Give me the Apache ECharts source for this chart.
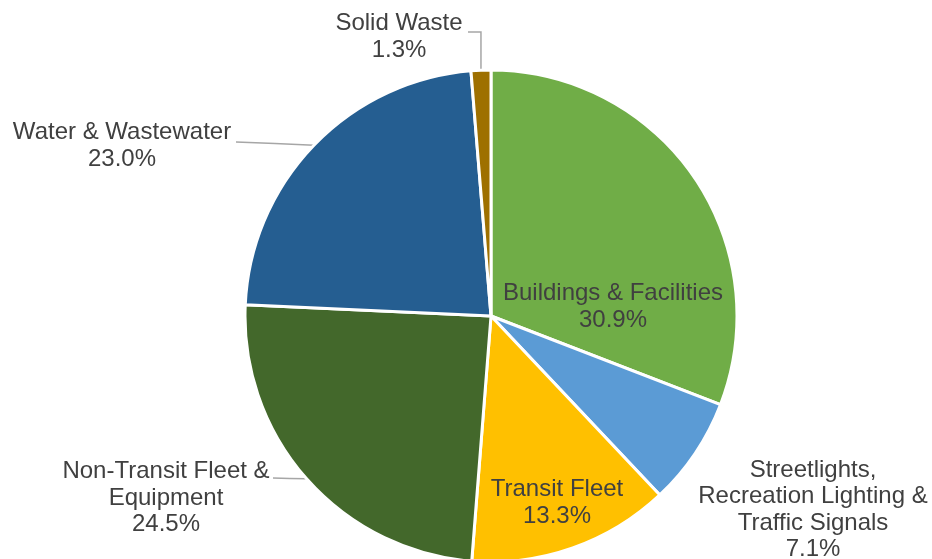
<!DOCTYPE html>
<html>
<head>
<meta charset="utf-8">
<script src="https://cdn.jsdelivr.net/npm/echarts@6/dist/echarts.min.js"></script>
<style>
  html, body { margin: 0; padding: 0; background: #ffffff; }
  #chart { width: 932px; height: 559px; }
</style>
</head>
<body>
<div id="chart"></div>
<script>
// Emissions share by sector (%)
const sectors = [
  'Buildings & Facilities',
  'Streetlights,\nRecreation Lighting &\nTraffic Signals',
  'Transit Fleet',
  'Non-Transit Fleet &\nEquipment',
  'Water & Wastewater',
  'Solid Waste'
];
const shares = [30.9, 7.1, 13.3, 24.5, 23.0, 1.3];
const sliceColors = ['#70AD47', '#5B9BD5', '#FFC000', '#43682B', '#255E91', '#9E7000'];

// Label placement: [centerX, centerY, leader style]
const labelSpots = [
  [613, 307, 'none'],
  [813, 510, 'none'],
  [557, 503, 'none'],
  [166, 498, 'straight'],
  [122, 146, 'straight'],
  [399, 37, 'elbow']
];
// Where each leader meets its label text
const leaderEnds = [null, null, null, [273, 478], [236, 142], [468, 32]];

const chart = echarts.init(document.getElementById('chart'), null, { renderer: 'canvas' });

const data = sectors.map((name, i) => ({
  name: name,
  value: shares[i],
  itemStyle: { color: sliceColors[i] },
  labelLine: { show: labelSpots[i][2] !== 'none' }
}));

chart.setOption({
  animation: false,
  backgroundColor: '#ffffff',
  series: [{
    type: 'pie',
    center: [491, 316],
    radius: [0, 246],
    startAngle: 90,
    clockwise: true,
    avoidLabelOverlap: false,
    data: data,
    itemStyle: { borderColor: '#ffffff', borderWidth: 3 },
    label: {
      show: true,
      position: 'outside',
      formatter: p => p.name + '\n' + p.value.toFixed(1) + '%',
      fontFamily: '"Liberation Sans", Arial, sans-serif',
      fontSize: 24,
      lineHeight: 26.5,
      color: '#404040',
      align: 'center'
    },
    labelLine: {
      show: true,
      lineStyle: { color: '#A6A6A6', width: 1.5 },
      length: 10,
      length2: 10,
      smooth: false
    },
    labelLayout: function (params) {
      const i = params.dataIndex;
      const spot = labelSpots[i];
      const out = {
        x: spot[0],
        y: spot[1],
        align: 'center',
        verticalAlign: 'middle'
      };
      const pts = params.labelLinePoints;
      if (spot[2] !== 'none' && pts && pts.length) {
        const start = pts[0];
        const end = leaderEnds[i];
        if (spot[2] === 'elbow') {
          out.labelLinePoints = [start, [start[0], end[1]], end];
        } else {
          out.labelLinePoints = [start, [(start[0] + end[0]) / 2, (start[1] + end[1]) / 2], end];
        }
      }
      return out;
    }
  }]
});
</script>
</body>
</html>
